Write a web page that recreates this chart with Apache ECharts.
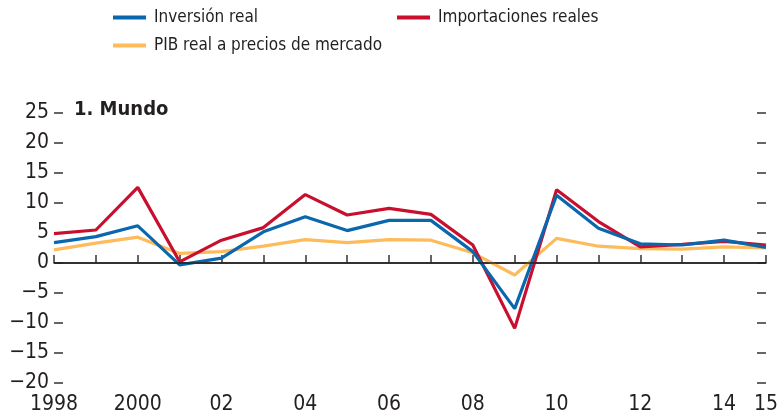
<!DOCTYPE html>
<html>
<head>
<meta charset="utf-8">
<script src="https://cdn.jsdelivr.net/npm/echarts@6/dist/echarts.min.js"></script>
<style>
html, body { margin: 0; padding: 0; background: #fff; }
#main { width: 781px; height: 418px; }
</style>
</head>
<body>
<div id="main"></div>
<script>
// años y series (% de variación)
var years = [1998, 1999, 2000, 2001, 2002, 2003, 2004, 2005, 2006, 2007, 2008, 2009, 2010, 2011, 2012, 2013, 2014, 2015];
var inversion = [3.4, 4.4, 6.2, -0.3, 0.8, 5.2, 7.7, 5.4, 7.1, 7.1, 1.9, -7.6, 11.3, 5.8, 3.2, 3.0, 3.8, 2.6];
var importaciones = [4.9, 5.5, 12.6, 0.2, 3.8, 5.9, 11.4, 8.0, 9.1, 8.1, 3.0, -10.9, 12.2, 6.9, 2.7, 3.1, 3.6, 3.0];
var pib = [2.2, 3.3, 4.3, 1.6, 1.9, 2.8, 3.9, 3.4, 3.9, 3.8, 1.7, -2.0, 4.1, 2.8, 2.4, 2.3, 2.7, 2.5];
var yearLabels = {1998: '1998', 2000: '2000', 2002: '02', 2004: '04', 2006: '06', 2008: '08', 2010: '10', 2012: '12', 2014: '14', 2015: '15'};

var FONT = "'Liberation Sans Narrow', 'DejaVu Sans Condensed', sans-serif";
var TXT = '#231f20';
var BLUE = '#0a67ae', RED = '#c8102e', YEL = '#fdbb5c';

function pairs(arr) {
  return years.map(function (y, i) { return [y, arr[i]]; });
}

var chart = echarts.init(document.getElementById('main'));

function legendAt(left, top, name) {
  return {
    left: left, top: top, data: [name],
    icon: 'rect', itemWidth: 33, itemHeight: 4, itemGap: 0,
    textStyle: { fontFamily: FONT, fontSize: 17, color: TXT, padding: [0, 0, 0, 3] },
    selectedMode: false
  };
}

var lineStyleFor = function (c) { return { color: c, width: 3.2 }; };

chart.setOption({
  animation: false,
  title: {
    text: '1. Mundo', left: 69, top: 95,
    textStyle: { fontFamily: FONT, fontSize: 20, fontWeight: 'bold', color: TXT }
  },
  legend: [
    legendAt(108, 4, 'Inversión real'),
    legendAt(392, 4, 'Importaciones reales'),
    legendAt(108, 32, 'PIB real a precios de mercado')
  ],
  grid: { left: 54, right: 12, top: 113, bottom: 35 },
  xAxis: {
    type: 'value', min: 1998, max: 2015, interval: 1,
    axisLine: { show: true, lineStyle: { color: '#333', width: 1.5 } },
    axisTick: { show: true, inside: true, length: 8, lineStyle: { color: '#333', width: 1.5 } },
    splitLine: { show: false },
    axisLabel: {
      fontFamily: FONT, fontSize: 21, color: TXT, margin: 11,
      formatter: function (v) { return yearLabels[v] || ''; },
      showMinLabel: true, showMaxLabel: true
    }
  },
  yAxis: [
    {
      type: 'value', min: -20, max: 25, interval: 5, position: 'left',
      axisLine: { show: false },
      axisTick: { show: true, inside: true, length: 9, lineStyle: { color: '#333', width: 1.5 } },
      splitLine: { show: false },
      axisLabel: {
        fontFamily: FONT, fontSize: 21, color: TXT, margin: 5,
        formatter: function (v) { return v < 0 ? '\u2212' + Math.abs(v) : String(v); }
      }
    },
    {
      type: 'value', min: -20, max: 25, interval: 5, position: 'right',
      axisLine: { show: false },
      axisTick: { show: true, inside: true, length: 9, lineStyle: { color: '#333', width: 1.5 } },
      splitLine: { show: false },
      axisLabel: { show: false }
    }
  ],
  series: [
    {
      name: 'PIB real a precios de mercado', type: 'line', data: pairs(pib),
      symbol: 'none', lineStyle: lineStyleFor(YEL), itemStyle: { color: YEL },
      z: 2,
      markLine: {
        silent: true, symbol: 'none', label: { show: false },
        lineStyle: { color: '#222', width: 1.5, type: 'solid' },
        data: [{ yAxis: 0 }]
      }
    },
    {
      name: 'Importaciones reales', type: 'line', data: pairs(importaciones),
      symbol: 'none', lineStyle: lineStyleFor(RED), itemStyle: { color: RED }, z: 3
    },
    {
      name: 'Inversión real', type: 'line', data: pairs(inversion),
      symbol: 'none', lineStyle: lineStyleFor(BLUE), itemStyle: { color: BLUE }, z: 4
    }
  ]
});
</script>
</body>
</html>
